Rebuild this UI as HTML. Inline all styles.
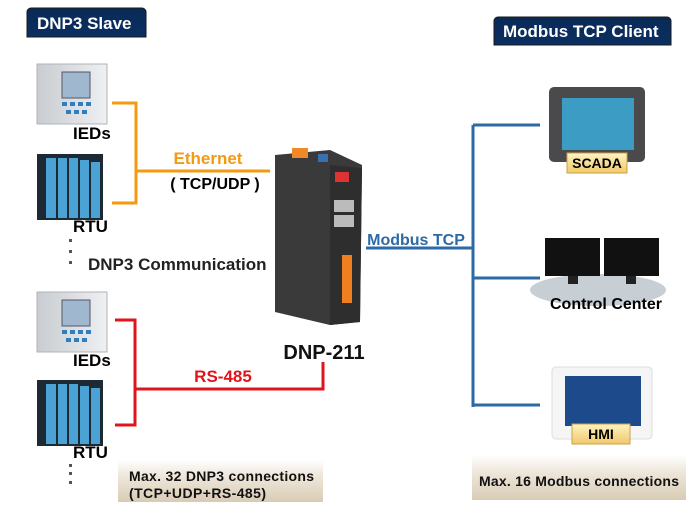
<!DOCTYPE html>
<html><head><meta charset="utf-8"><style>
body{margin:0;background:#fff;}
svg{display:block;}
text{font-family:"Liberation Sans",sans-serif;font-weight:bold;}
</style></head><body>
<svg width="700" height="525" viewBox="0 0 700 525" xmlns="http://www.w3.org/2000/svg">
<defs>
<linearGradient id="hd" x1="0" y1="0" x2="0" y2="1"><stop offset="0" stop-color="#0a2a55"/><stop offset="1" stop-color="#0b2f63"/></linearGradient>
<linearGradient id="bx" x1="0" y1="0" x2="0" y2="1"><stop offset="0" stop-color="#ffffff"/><stop offset="0.35" stop-color="#efe8dc"/><stop offset="1" stop-color="#d8ccb5"/></linearGradient>
<linearGradient id="lb" x1="0" y1="0" x2="0" y2="1"><stop offset="0" stop-color="#fff3c0"/><stop offset="1" stop-color="#f0c96a"/></linearGradient>
<linearGradient id="ied" x1="0" y1="0" x2="1" y2="0"><stop offset="0" stop-color="#c9ccd0"/><stop offset="1" stop-color="#eef0f2"/></linearGradient>
</defs>
<path d="M27,37 V12 a4,4 0 0 1 4,-4 H142 a4,4 0 0 1 4,4 V37 Z" fill="url(#hd)" stroke="#1a1a1a"/>
<text x="37" y="29" fill="#fff" font-size="17">DNP3 Slave</text>
<path d="M494,45 V21 a4,4 0 0 1 4,-4 H667 a4,4 0 0 1 4,4 V45 Z" fill="url(#hd)" stroke="#1a1a1a"/>
<text x="503" y="37" fill="#fff" font-size="17">Modbus TCP Client</text>

<g id="iedg">
<rect x="37" y="64" width="70" height="60" fill="url(#ied)" stroke="#b0b3b8"/>
<rect x="62" y="72" width="28" height="26" fill="#9fb8cf" stroke="#556"/>
<g fill="#2d7fc0"><rect x="62" y="102" width="5" height="4"/><rect x="70" y="102" width="5" height="4"/><rect x="78" y="102" width="5" height="4"/><rect x="86" y="102" width="5" height="4"/><rect x="66" y="110" width="5" height="4"/><rect x="74" y="110" width="5" height="4"/><rect x="82" y="110" width="5" height="4"/></g>
</g>
<use href="#iedg" y="228"/>
<g id="rtug">
<rect x="37" y="154" width="66" height="66" fill="#1d2a33"/>
<rect x="46" y="158" width="10" height="60" fill="#4aa3d4"/>
<rect x="58" y="158" width="9" height="60" fill="#4aa3d4"/>
<rect x="69" y="158" width="9" height="60" fill="#4aa3d4"/>
<rect x="80" y="160" width="9" height="58" fill="#4aa3d4"/>
<rect x="91" y="162" width="9" height="56" fill="#4aa3d4"/>
</g>
<use href="#rtug" y="226"/>
<text x="73" y="139" font-size="17" fill="#000">IEDs</text>
<text x="73" y="232" font-size="17" fill="#000">RTU</text>
<text x="73" y="366" font-size="17" fill="#000">IEDs</text>
<text x="73" y="458" font-size="17" fill="#000">RTU</text>
<g fill="#555"><rect x="69" y="239" width="3" height="3"/><rect x="69" y="250" width="3" height="3"/><rect x="69" y="261" width="3" height="3"/>
<rect x="69" y="464" width="3" height="3"/><rect x="69" y="472" width="3" height="3"/><rect x="69" y="481" width="3" height="3"/></g>

<path d="M112,103 H136 V203 H112 M136,171 H270" fill="none" stroke="#f39a12" stroke-width="3"/>
<text x="208" y="164" font-size="17" fill="#f39a12" text-anchor="middle">Ethernet</text>
<text x="215" y="189" font-size="16" fill="#000" text-anchor="middle">( TCP/UDP )</text>
<text x="88" y="270" font-size="17" fill="#222">DNP3 Communication</text>

<path d="M115,320 H135 V425 H115 M135,389 H323 V362" fill="none" stroke="#e0141a" stroke-width="3"/>
<text x="223" y="382" font-size="17" fill="#e0141a" text-anchor="middle">RS-485</text>

<polygon points="275,155 330,150 362,165 360,322 330,325 275,312" fill="#3a3a3a"/>
<polygon points="330,165 362,168 360,322 330,325" fill="#2e2e2e"/>
<rect x="292" y="148" width="16" height="10" fill="#f08a28"/>
<rect x="318" y="154" width="10" height="8" fill="#3a6fb0"/>
<rect x="334" y="200" width="20" height="12" fill="#bbb"/>
<rect x="334" y="215" width="20" height="12" fill="#bbb"/>
<rect x="342" y="255" width="10" height="48" fill="#f07f20"/>
<rect x="335" y="172" width="14" height="10" fill="#d33"/>
<text x="324" y="359" font-size="20" fill="#111" text-anchor="middle">DNP-211</text>

<path d="M366,248 H473 M473,125 H540 M473,125 V407 M473,278 H540 M473,405 H540" fill="none" stroke="#2d6aa5" stroke-width="3"/>
<text x="416" y="245" font-size="16" fill="#2d6aa5" text-anchor="middle">Modbus TCP</text>

<rect x="549" y="87" width="96" height="75" rx="5" fill="#4a4a4c"/>
<rect x="562" y="98" width="72" height="52" fill="#3c9cc4"/>
<rect x="567" y="153" width="60" height="20" fill="url(#lb)" stroke="#c9a24a"/>
<text x="597" y="168" font-size="14" fill="#000" text-anchor="middle">SCADA</text>

<ellipse cx="598" cy="290" rx="68" ry="16" fill="#c7ced4"/>
<rect x="545" y="238" width="55" height="38" fill="#111"/>
<rect x="604" y="238" width="55" height="38" fill="#111"/>
<rect x="568" y="276" width="10" height="8" fill="#222"/>
<rect x="626" y="276" width="10" height="8" fill="#222"/>
<text x="606" y="309" font-size="16" fill="#000" text-anchor="middle">Control Center</text>

<rect x="552" y="367" width="100" height="72" rx="4" fill="#f5f5f5" stroke="#ddd"/>
<rect x="565" y="376" width="76" height="50" fill="#1d4a8a"/>
<rect x="572" y="424" width="58" height="20" fill="url(#lb)" stroke="#c9a24a"/>
<text x="601" y="439" font-size="14" fill="#000" text-anchor="middle">HMI</text>

<rect x="118" y="460" width="205" height="42" fill="url(#bx)"/>
<text x="129" y="481" font-size="14" fill="#111" textLength="185">Max. 32 DNP3 connections</text>
<text x="129" y="498" font-size="14" fill="#111" textLength="137">(TCP+UDP+RS-485)</text>
<rect x="472" y="455" width="214" height="45" fill="url(#bx)"/>
<text x="479" y="486" font-size="14" fill="#111" textLength="200">Max. 16 Modbus connections</text>
</svg>
</body></html>
